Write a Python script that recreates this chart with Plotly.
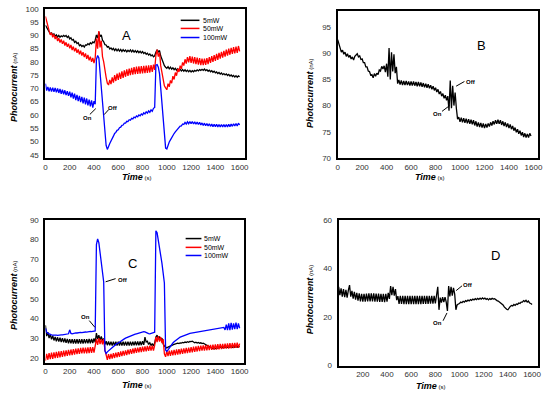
import plotly.graph_objects as go

# ---------------- data (time in s, photocurrent in nA), sampled every 10 s ----------------
time_s = list(range(0, 1601, 10))
time_b = list(range(0, 1581, 10))

A_5mW = [93.8, 93, 92.2, 91.3, 90.6, 90.9, 90.1, 90.6, 89.7, 90.2, 89.4, 90, 89.3, 89.8, 89.5, 90, 89.6, 90, 89.2, 89.7,
         88.7, 89.1, 88.2, 88.5, 87.4, 87.8, 86.9, 87.2, 86.1, 86.5, 85.8, 86.2, 85.6, 86.4, 86.3, 86.9, 86.5, 87.2, 86.8, 87.5,
         87.2, 88.2, 90.2, 89, 91.3, 89.5, 90.2, 88.2, 87.6, 86.5, 86.4, 85.6, 85.8, 84.9, 85.3, 84.6, 85.1, 84.3, 84.9, 84.2,
         84.8, 84.1, 84.7, 83.9, 84.6, 84, 84.5, 83.8, 84.4, 83.9, 84.5, 83.8, 84.4, 83.7, 84.3, 83.6, 84.2, 83.5, 84, 83.4,
         83.9, 83.2, 83.6, 82.9, 83.3, 82.6, 83, 82.3, 82.6, 81.9, 82.3, 83.6, 84.6, 83.8, 84.3, 82.2, 81, 79.6, 78.6, 78,
         77.6, 78.2, 77.4, 78, 77.3, 77.8, 77.1, 77.6, 76.9, 77.4, 76.8, 77.2, 76.6, 77.1, 76.5, 77, 76.4, 76.9, 76.3, 76.8,
         76.2, 76.7, 76.3, 76.8, 76.5, 77, 76.6, 77.1, 76.8, 77.2, 76.8, 77.3, 76.7, 77.1, 76.5, 76.9, 76.3, 76.7, 76.1, 76.5,
         75.9, 76.2, 75.6, 76, 75.4, 75.8, 75.2, 75.6, 75.1, 75.5, 74.9, 75.3, 74.7, 75.1, 74.5, 74.9, 74.3, 74.8, 74.2, 74.7,
         74.4]
A_50mW = [97.2, 95, 93.2, 91.8, 90.2, 91, 89.3, 90.4, 88.6, 89.7, 87.9, 89, 87.3, 88.5, 86.8, 88, 86.2, 87.4, 85.7, 86.9,
          85.1, 86.4, 84.5, 85.8, 84, 85.3, 83.4, 84.7, 82.9, 84.2, 82.4, 83.7, 81.8, 83.2, 81.2, 82.6, 80.6, 82, 80, 81.5,
          79.6, 81.5, 88.8, 85, 91.6, 85.5, 88, 82, 80, 76.5, 74.2, 72, 71.3, 73.2, 71.6, 74.2, 72.2, 75, 72.8, 75.6,
          73.2, 76, 73.6, 76.4, 74, 76.8, 74.4, 77.2, 74.7, 77.5, 75, 77.8, 75.2, 78, 75.4, 78.2, 75.5, 78.3, 75.6, 78.4,
          75.7, 78.5, 75.8, 78.6, 75.9, 78.7, 76, 78.8, 76.2, 79, 77, 82.5, 84.6, 82, 83.5, 78.5, 75.5, 73, 71, 70.2,
          69.5, 71.8, 70.6, 73, 72, 74.6, 73.4, 76, 74.8, 77.4, 76.2, 78.6, 77.4, 79.8, 78.6, 81, 79.4, 81.8, 79.8, 82.2,
          79.6, 82, 79.4, 81.8, 79.2, 81.6, 79, 81.4, 78.8, 81.2, 78.8, 81.2, 78.9, 81.4, 79.2, 81.8, 79.6, 82.2, 80, 82.6,
          80.4, 83, 80.8, 83.4, 81.2, 83.8, 81.6, 84.2, 82, 84.6, 82.4, 85, 82.7, 85.3, 83, 85.6, 83.2, 85.8, 83.4, 86,
          84]
A_100mW = [71.8, 69.2, 70.6, 68.9, 70.4, 68.8, 70.3, 68.7, 70.2, 68.5, 70, 68.3, 69.8, 68, 69.5, 67.8, 69.3, 67.5, 69, 67.2,
           68.8, 66.6, 68.4, 66.2, 68, 65.6, 67.6, 65.2, 67.2, 64.8, 66.8, 64.4, 66.5, 64, 66.2, 63.6, 65.8, 63.2, 65.5, 62.8,
           65.2, 64, 81, 82.4, 81.5, 76, 71, 63, 59, 52, 48.5, 47, 48.4, 49.2, 50.2, 51.4, 52, 53, 53.4, 54.2,
           54.4, 55.2, 55.4, 56.1, 56.2, 56.9, 56.9, 57.6, 57.5, 58.2, 58, 58.7, 58.5, 59.2, 58.9, 59.6, 59.3, 60, 59.7, 60.4,
           60, 60.8, 60.4, 61.2, 60.7, 61.5, 61, 61.9, 61.4, 62.5, 62.8, 78.8, 79, 78, 75.5, 70, 64, 57, 50, 47.5,
           47.2, 48.8, 49.8, 50.6, 51.6, 52.2, 53, 53.6, 54.2, 54.8, 55.2, 55.8, 55.9, 56.6, 56.4, 57.2, 56.6, 57.4, 56.7, 57.5,
           56.7, 57.5, 56.6, 57.4, 56.5, 57.3, 56.4, 57.2, 56.2, 57, 56, 56.9, 55.9, 56.8, 55.8, 56.7, 55.7, 56.6, 55.6, 56.5,
           55.6, 56.5, 55.5, 56.4, 55.5, 56.4, 55.5, 56.4, 55.5, 56.4, 55.5, 56.5, 55.6, 56.6, 55.7, 56.7, 55.8, 56.8, 55.8, 56.9,
           56.2]

B_signal = [92.6, 91.8, 91, 90.2, 90.6, 89.8, 90.2, 89.4, 89.9, 89.2, 89.6, 88.9, 89.3, 88.7, 89.4, 89.6, 89.9, 89.3, 89.5, 88.8,
            88.9, 88.2, 88.2, 87.4, 87.4, 86.6, 86.5, 85.8, 85.9, 85.3, 86.1, 85.6, 86.2, 85.9, 86.8, 86.6, 87.5, 87, 87.6, 86.4,
            88, 85.5, 91, 85, 90.2, 86.5, 89.8, 86.2, 87.4, 84.2, 84.9, 84, 84.8, 83.9, 84.7, 83.9, 84.7, 83.9, 84.6, 83.8,
            84.6, 83.8, 84.6, 83.8, 84.5, 83.7, 84.5, 83.7, 84.4, 83.6, 84.3, 83.5, 84.2, 83.4, 84.1, 83.3, 83.9, 83.1, 83.7, 82.9,
            83.4, 82.6, 83.1, 82.2, 82.7, 81.8, 82.3, 81.4, 82, 81, 81.8, 79, 84.8, 79.5, 83.8, 80, 82.5, 79.5, 77.4, 77.8,
            76.9, 77.7, 76.8, 77.6, 76.7, 77.5, 76.6, 77.4, 76.5, 77.3, 76.4, 77.2, 76.2, 77, 76, 76.8, 75.9, 76.7, 75.8, 76.6,
            75.7, 76.5, 75.8, 76.6, 76, 76.8, 76.2, 77, 76.4, 77.2, 76.5, 77.3, 76.5, 77.2, 76.3, 77, 76.1, 76.8, 75.9, 76.6,
            75.7, 76.4, 75.5, 76.1, 75.2, 75.8, 74.9, 75.5, 74.6, 75.2, 74.3, 74.9, 74, 74.7, 73.9, 74.6, 73.9, 74.7, 74.2]

C_5mW = [36.5, 31, 33, 30, 31.8, 29.4, 31.2, 28.8, 30.6, 28.4, 30.4, 28.2, 30.2, 28, 30, 27.8, 29.8, 27.6, 29.6, 27.4,
         29.5, 27.3, 29.4, 27.2, 29.4, 27.2, 29.4, 27.2, 29.4, 27.2, 29.4, 27.2, 29.5, 27.3, 29.5, 27.3, 29.6, 27.4, 29.6, 27.5,
         29.8, 27.8, 32.5, 29.5, 31.5, 29, 30.8, 28.8, 29.8, 26.8, 28.4, 26.4, 28.3, 26.3, 28.2, 26.2, 28.2, 26.2, 28.2, 26.2,
         28.2, 26.2, 28.2, 26.2, 28.2, 26.2, 28.2, 26.2, 28.2, 26.2, 28.2, 26.2, 28.2, 26.3, 28.3, 26.3, 28.3, 26.3, 28.3, 26.4,
         28.4, 26.6, 30.5, 28, 28.4, 26.8, 27.6, 26.2, 27.2, 26, 27.5, 30.5, 31.5, 29.5, 30.8, 29, 30, 27, 26, 25.2,
         25, 25.4, 25.8, 26.2, 26.4, 26.6, 26.8, 27, 27.2, 27.4, 27.2, 27.6, 27.5, 27.8, 27.6, 28, 27.8, 28.2, 27.9, 28.3,
         28.2, 28.4, 28, 27.6, 27.9, 27.5, 27.8, 27.4, 27.6, 27.2, 27.4, 27, 26.8, 26.4, 26, 25.6, 25.2, 24.8, 24.6, 24.5,
         24.6, 25, 24.8, 25.2, 25, 25.4, 25.1, 25.5, 25.2, 25.6, 25.2, 25.6, 25.3, 25.7, 25.3, 25.7, 25.4, 25.8, 25.4, 25.8,
         25.5]
C_50mW = [18.5, 22, 19, 22.4, 19.3, 22.6, 19.5, 22.8, 19.8, 23, 20, 23.2, 20.2, 23.4, 20.5, 23.6, 20.7, 23.8, 21, 24,
          21.2, 24.2, 21.4, 24.4, 21.6, 24.6, 21.8, 24.8, 22, 25, 22.2, 25.2, 22.2, 25.2, 22.3, 25.3, 22.4, 25.4, 22.5, 25.4,
          22.6, 25.5, 29.5, 26.5, 30, 27, 29.5, 26.8, 29.5, 24, 21, 19, 21.8, 19.3, 22, 19.6, 22.3, 19.9, 22.6, 20.2,
          22.9, 20.5, 23.2, 20.8, 23.5, 21.1, 23.8, 21.4, 24.1, 21.7, 24.4, 22, 24.7, 22.3, 25, 22.5, 25.2, 22.7, 25.4, 22.9,
          25.6, 23.1, 25.8, 23.3, 26, 23.5, 26.1, 23.6, 26.2, 23.7, 26.3, 30.5, 28, 31, 28.2, 30.5, 27.5, 29.5, 22, 20.5,
          23.5, 20.8, 23.6, 21, 23.8, 21.2, 24, 21.4, 24.2, 21.6, 24.4, 21.8, 24.6, 22, 24.8, 22.2, 25, 22.4, 25.2, 22.6,
          25.4, 22.8, 25.6, 23, 25.8, 23.2, 26, 23.4, 26.2, 23.6, 26.3, 23.7, 26.4, 23.8, 26.5, 23.9, 26.6, 24, 26.7, 24.1,
          26.8, 24.2, 26.9, 24.3, 27, 24.4, 27.1, 24.5, 27.2, 24.6, 27.3, 24.7, 27.4, 24.8, 27.5, 24.9, 27.6, 25, 27.7, 25.1,
          27.2]
C_100mW = [35, 33, 32.4, 32, 31.8, 31.6, 31.5, 31.6, 31.4, 31.5, 31.4, 31.6, 31.5, 31.6, 31.6, 31.7, 31.7, 31.8, 31.8, 32.2,
           34.2, 32.4, 32.2, 32.4, 32.4, 32.6, 32.6, 32.8, 32.7, 32.9, 32.8, 33, 32.9, 33.1, 33, 33.2, 33.1, 33.4, 33.3, 33.5,
           33.4, 33.6, 77.5, 80.4, 78.5, 74, 68.5, 63, 58.5, 23.5, 22.2, 23, 23.6, 24.2, 24.8, 25.4, 26, 26.5, 27, 27.3,
           27.5, 28, 28.4, 28.8, 29.2, 29.6, 30, 30.3, 30.6, 30.9, 31.2, 31.4, 31.6, 31.8, 32, 32.2, 32.4, 32.6, 32.8, 33,
           33.1, 33.3, 33.2, 32.8, 32.5, 32.3, 32.2, 32.3, 32.5, 32.8, 33, 84.5, 83.5, 80, 76, 72, 68, 63, 58, 24,
           23.2, 24, 25, 26, 26.8, 27.5, 28.1, 28.7, 29.2, 29.7, 30.1, 30.5, 30.8, 31.1, 31.4, 31.6, 31.8, 32, 32.2, 32.4,
           32.5, 32.6, 32.7, 32.8, 32.9, 33, 33.1, 33.2, 33.3, 33.4, 33.5, 33.6, 33.7, 33.8, 33.9, 34, 34.1, 34.2, 34.3, 34.4,
           34.5, 34.6, 34.7, 34.8, 34.9, 35, 35.2, 35.4, 34.2, 36.8, 34, 37.5, 34, 37.8, 34.3, 37.5, 34.5, 37.8, 34.5, 37.5,
           35]

D_signal = [32.5, 29, 31.8, 28.4, 31.5, 28.2, 31.2, 28, 31, 33.2, 28.4, 30.8, 27.6, 30.4, 27.2, 30, 26.8, 29.8, 26.5, 29.6,
            26.4, 29.6, 26.4, 29.7, 26.5, 29.8, 26.5, 29.8, 26.5, 29.8, 26.4, 29.7, 26.4, 29.7, 26.3, 29.6, 26.3, 29.6, 26.2, 29.6,
            26.4, 30, 27.5, 32.8, 29, 32.5, 28.8, 31.5, 27, 28.6, 25.4, 28.8, 25.4, 28.8, 25.3, 28.8, 25.3, 28.8, 25.3, 28.8,
            25.3, 28.8, 25.3, 28.8, 25.3, 28.8, 25.3, 28.8, 25.3, 28.8, 25.4, 28.8, 25.4, 28.8, 25.4, 28.8, 25.5, 28.8, 25.5, 28.8,
            25.6, 28.8, 32.5, 23, 28, 26, 28.2, 26.2, 28.2, 26.2, 22.5, 32.8, 28.5, 32.5, 28.8, 32, 29.5, 23, 25, 25.4,
            25.6, 26.2, 25.9, 26.5, 26.2, 26.8, 26.5, 27, 26.7, 27.2, 26.9, 27.4, 27.1, 27.6, 27.2, 27.7, 27.3, 27.8, 27.4, 27.9,
            27.5, 27.8, 27.3, 27.6, 27.1, 27.6, 27.3, 27.7, 27.4, 27.6, 27.1, 26.8, 26.6, 26.2, 26, 25.4, 25, 24.2, 23.6, 23.2,
            23, 23.8, 24.4, 24.8, 24.6, 25.2, 24.8, 25.4, 25.2, 25.8, 25.6, 26.2, 26.2, 26.8, 26.4, 26.9, 26.2, 26.6, 25.8, 25.6,
            25.2]

series_names = ["5mW", "50mW", "100mW"]
series_colors = ["#000000", "#ff0000", "#0000ff"]
x_ticks = [0, 200, 400, 600, 800, 1000, 1200, 1400, 1600]
x_ticks_d = [200, 400, 600, 800, 1000, 1200, 1400, 1600]

# ---------------- figure ----------------
fig = go.Figure()
LW = 1.3

for vals, name, col in zip([A_5mW, A_50mW, A_100mW], series_names, series_colors):
    fig.add_trace(go.Scatter(x=time_s, y=vals, mode="lines", name=name,
                             line=dict(color=col, width=LW), xaxis="x", yaxis="y",
                             showlegend=False))
fig.add_trace(go.Scatter(x=time_b, y=B_signal, mode="lines", line=dict(color="#000", width=LW),
                         xaxis="x2", yaxis="y2", showlegend=False))
for vals, name, col in zip([C_5mW, C_50mW, C_100mW], series_names, series_colors):
    fig.add_trace(go.Scatter(x=time_s, y=vals, mode="lines", name=name,
                             line=dict(color=col, width=LW), xaxis="x3", yaxis="y3",
                             showlegend=False))
fig.add_trace(go.Scatter(x=time_s, y=D_signal, mode="lines", line=dict(color="#000", width=LW),
                         xaxis="x4", yaxis="y4", showlegend=False))

W, H = 550, 398
def px(v): return v / W
def py(v): return 1 - v / H

tickfont = dict(family="Liberation Sans, Arial, sans-serif", size=8, color="#333")
base = dict(showline=True, linecolor="black", linewidth=2, mirror=True, showgrid=False,
            zeroline=False, ticks="", tickfont=tickfont)
xbase = dict(base, ticklabelstandoff=0)
ybase = dict(base, ticklabelstandoff=3)

fig.update_layout(
    width=W, height=H, margin=dict(l=0, r=0, t=0, b=0),
    paper_bgcolor="white", plot_bgcolor="white",
    xaxis=dict(xbase, domain=[px(44), px(246)], range=[0, 1643], tickvals=x_ticks, anchor="y"),
    yaxis=dict(ybase, domain=[py(158), py(5)], range=[43.6, 100], tickvals=list(range(45, 101, 5)), anchor="x"),
    xaxis2=dict(xbase, domain=[px(340), px(543)], range=[0, 1638], tickvals=x_ticks, anchor="y2"),
    yaxis2=dict(ybase, domain=[py(157.5), py(7.5)], range=[70, 98], tickvals=list(range(70, 96, 5)), anchor="x2"),
    xaxis3=dict(xbase, domain=[px(44), px(245)], range=[0, 1635], tickvals=x_ticks, anchor="y3"),
    yaxis3=dict(ybase, domain=[py(367), py(221)], range=[17.5, 90], tickvals=list(range(20, 91, 10)), anchor="x3"),
    xaxis4=dict(xbase, domain=[px(341), px(543)], range=[0, 1650], tickvals=x_ticks_d, anchor="y4"),
    yaxis4=dict(ybase, domain=[py(370), py(221)], range=[0, 60], tickvals=[0, 20, 40, 60], anchor="x4"),
)

ann = []
shapes = []
font_main = "Liberation Sans, Arial, sans-serif"

# axis titles
ytitle = "<b><i>Photocurrent</i></b><span style='font-size:6px'> (nA)</span>"
xtitle = "<b><i>Time</i></b><span style='font-size:6px'> (s)</span>"
for (x, y) in [(12, 85), (312, 91), (12, 298), (312, 302)]:
    ann.append(dict(text=ytitle, x=px(x), y=py(y), xref="paper", yref="paper", showarrow=False,
                    textangle=-90, font=dict(family=font_main, size=9, color="#000"),
                    xanchor="center", yanchor="middle"))
for (x, y) in [(137, 177), (434, 177), (137, 390), (435, 391)]:
    ann.append(dict(text=xtitle, x=px(x), y=py(y), xref="paper", yref="paper", showarrow=False,
                    font=dict(family=font_main, size=9, color="#000"),
                    xanchor="center", yanchor="middle"))

# panel letters
for (t, x, y) in [("A", 126, 32), ("B", 486, 42), ("C", 132, 266), ("D", 500, 257)]:
    ann.append(dict(text=t, x=px(x), y=py(y), xref="paper", yref="paper", showarrow=False,
                    font=dict(family=font_main, size=13, color="#000"),
                    xanchor="center", yanchor="middle"))

# legends (A and C)
for (x0, x1, xt, ys) in [(181, 200, 202, [16.7, 25, 34.3]), (186, 202, 203, [240, 249, 257.3])]:
    for name, col, yy in zip(series_names, series_colors, ys):
        shapes.append(dict(type="line", xref="paper", yref="paper", x0=px(x0), x1=px(x1),
                           y0=py(yy), y1=py(yy), line=dict(color=col, width=1.5)))
        ann.append(dict(text=name, x=px(xt), y=py(yy), xref="paper", yref="paper", showarrow=False,
                        font=dict(family=font_main, size=7, color="#000"),
                        xanchor="left", yanchor="middle"))

# On / Off markers (data coordinates)
markers = [
    ("x", "y", "On", (350, 58.7), (366, 60.2), (415, 62.4)),
    ("x", "y", "Off", (553, 62.8), (483, 60.1), (523, 62.1)),
    ("x2", "y2", "Off", (1090, 84.5), (968, 83.7), (1036, 84.6)),
    ("x2", "y2", "On", (815, 78.4), (853, 78.9), (915, 80.0)),
    ("x3", "y3", "On", (331, 40.5), (361, 38.9), (407, 35.5)),
    ("x3", "y3", "Off", (635, 59.6), (496, 58.6), (578, 60.2)),
    ("x4", "y4", "Off", (1074, 33.3), (972, 30.9), (1021, 32.9)),
    ("x4", "y4", "On", (817, 17.4), (864, 18.5), (896, 21.7)),
]
for xr, yr, t, tp, p0, p1 in markers:
    ann.append(dict(text="<b>" + t + "</b>", x=tp[0], y=tp[1], xref=xr, yref=yr, showarrow=False,
                    font=dict(family=font_main, size=6, color="#000"),
                    xanchor="center", yanchor="middle"))
    shapes.append(dict(type="line", xref=xr, yref=yr, x0=p0[0], y0=p0[1], x1=p1[0], y1=p1[1],
                       line=dict(color="#000", width=1)))

fig.update_layout(annotations=ann, shapes=shapes)
fig.write_html("out.html", config={"displayModeBar": False},
               post_script="document.body.style.margin='0px';document.body.style.overflow='hidden';")
